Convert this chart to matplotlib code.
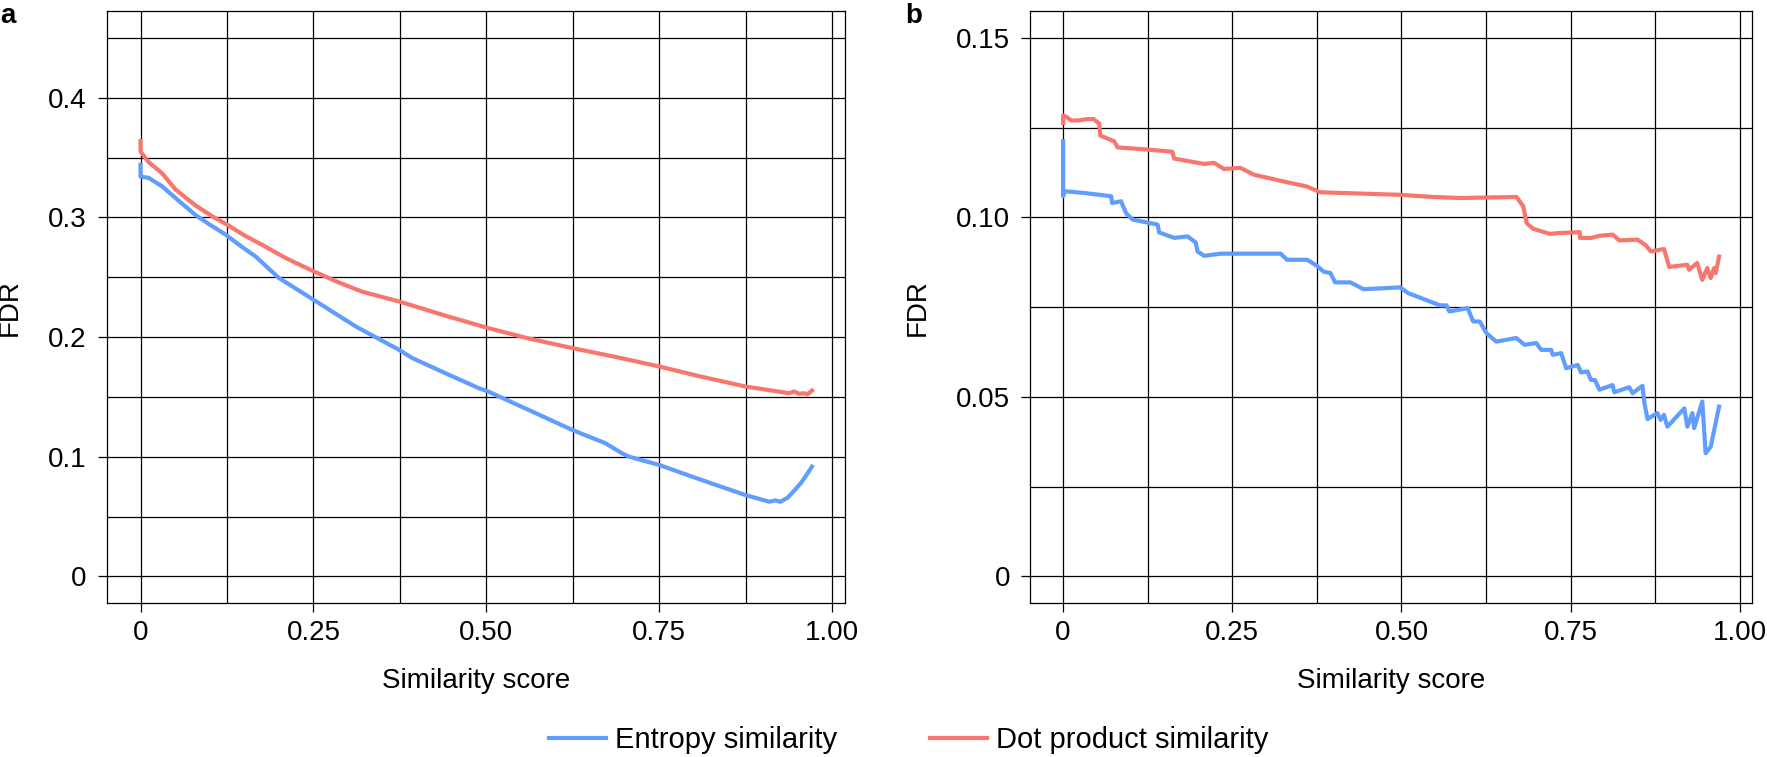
import matplotlib
matplotlib.use("Agg")
import matplotlib.pyplot as plt
from matplotlib.ticker import MultipleLocator, FixedLocator

plt.rcParams['font.family'] = ['Liberation Sans', 'DejaVu Sans']

# panel a: FDR vs similarity score
a_entropy_x = [0.0, 0.0, 0.002, 0.012, 0.031, 0.055, 0.0795, 0.100, 0.123, 0.145, 0.166, 0.200,
               0.250, 0.311, 0.3735, 0.393, 0.440, 0.489, 0.5026, 0.5615, 0.624, 0.672, 0.696,
               0.706, 0.750, 0.7976, 0.825, 0.8744, 0.909, 0.918, 0.925, 0.935, 0.9416, 0.9545,
               0.962, 0.9707]
a_entropy_y = [0.344, 0.334, 0.334, 0.333, 0.326, 0.314, 0.302, 0.294, 0.2856, 0.276, 0.2675, 0.2494,
               0.2312, 0.2089, 0.1894, 0.1824, 0.170, 0.1573, 0.1545, 0.139, 0.1224, 0.1113, 0.1029,
               0.1001, 0.0931, 0.0833, 0.0778, 0.068, 0.0624, 0.0635, 0.0624, 0.0655, 0.0695, 0.0778,
               0.084, 0.0917]
a_dot_x = [0.0, 0.0, 0.012, 0.031, 0.0506, 0.0795, 0.1035, 0.125, 0.150, 0.176, 0.210, 0.250,
           0.285, 0.320, 0.3735, 0.440, 0.5026, 0.560, 0.624, 0.690, 0.750, 0.8100, 0.8744,
           0.9374, 0.945, 0.952, 0.959, 0.964, 0.9707]
a_dot_y = [0.3637, 0.355, 0.346, 0.337, 0.3233, 0.310, 0.301, 0.294, 0.285, 0.277, 0.266, 0.255,
           0.246, 0.238, 0.2298, 0.218, 0.2075, 0.199, 0.1908, 0.183, 0.1754, 0.167, 0.1587,
           0.1531, 0.1545, 0.1525, 0.1531, 0.152, 0.1553]

# panel b
b_entropy_x = [0.0, 0.0, 0.002, 0.0315, 0.071, 0.0724, 0.0856, 0.093, 0.1028, 0.1396, 0.142,
               0.1642, 0.184, 0.196, 0.1987, 0.2085, 0.233, 0.3214, 0.331, 0.3606, 0.3753,
               0.385, 0.395, 0.402, 0.4246, 0.444, 0.498, 0.510, 0.557, 0.5667, 0.5707, 0.598,
               0.606, 0.6157, 0.6255, 0.640, 0.6697, 0.682, 0.6992, 0.7066, 0.7213, 0.7237,
               0.736, 0.7434, 0.7605, 0.7655, 0.775, 0.780, 0.786, 0.7925, 0.812, 0.8146,
               0.8366, 0.8415, 0.8562, 0.8587, 0.8636, 0.878, 0.883, 0.888, 0.893, 0.918,
               0.9225, 0.930, 0.9325, 0.9446, 0.9495, 0.957, 0.9694]
b_entropy_y = [0.1212, 0.1059, 0.1073, 0.1068, 0.1059, 0.104, 0.1045, 0.1012, 0.0994, 0.098, 0.0958,
               0.0943, 0.0947, 0.093, 0.0905, 0.0893, 0.0899, 0.0899, 0.0882, 0.0882, 0.0865,
               0.0849, 0.0845, 0.0819, 0.0819, 0.080, 0.0805, 0.0789, 0.0755, 0.0755, 0.0738, 0.0747,
               0.071, 0.071, 0.0678, 0.0654, 0.0664, 0.0645, 0.065, 0.0631, 0.0631, 0.0617,
               0.0622, 0.058, 0.0589, 0.0568, 0.0571, 0.0547, 0.0547, 0.052, 0.0533, 0.0513,
               0.0527, 0.051, 0.0531, 0.0487, 0.0438, 0.0455, 0.0436, 0.045, 0.0417, 0.0468,
               0.0417, 0.0455, 0.0413, 0.0487, 0.0343, 0.0361, 0.0473]
b_dot_x = [0.0, 0.0, 0.0049, 0.0117, 0.0216, 0.0363, 0.0450, 0.0534, 0.0549, 0.0755, 0.0805,
           0.1247, 0.1615, 0.164, 0.2082, 0.223, 0.2377, 0.2622, 0.2819, 0.3261, 0.3604,
           0.380, 0.497, 0.5465, 0.586, 0.670, 0.680, 0.685, 0.695, 0.7195, 0.729, 0.7636,
           0.7636, 0.781, 0.793, 0.8124, 0.822, 0.849, 0.8613, 0.8687, 0.888, 0.8957, 0.9226,
           0.925, 0.937, 0.9446, 0.952, 0.957, 0.962, 0.9645, 0.9694]
b_dot_y = [0.1263, 0.1284, 0.128, 0.127, 0.127, 0.1274, 0.1274, 0.1261, 0.1228, 0.1212, 0.1195,
           0.1189, 0.1183, 0.1164, 0.1149, 0.1152, 0.1135, 0.1138, 0.1119, 0.1100, 0.1086,
           0.107, 0.1063, 0.1057, 0.1054, 0.1057, 0.1031, 0.0984, 0.0968, 0.0954, 0.0956, 0.0959,
           0.0943, 0.0943, 0.0949, 0.0952, 0.0936, 0.0938, 0.0922, 0.0905, 0.0912, 0.0862, 0.0868,
           0.0854, 0.0873, 0.0826, 0.0859, 0.0831, 0.0859, 0.0845, 0.0891]

x_ticks = [0, 0.25, 0.5, 0.75, 1.0]
x_labels = ["0", "0.25", "0.50", "0.75", "1.00"]
a_yticks = [0, 0.1, 0.2, 0.3, 0.4]
a_ylabels = ["0", "0.1", "0.2", "0.3", "0.4"]
b_yticks = [0, 0.05, 0.10, 0.15]
b_ylabels = ["0", "0.05", "0.10", "0.15"]

BLUE = "#619CFF"
RED = "#F8766D"
W, H = 1767, 757

fig = plt.figure(figsize=(W / 100, H / 100), dpi=100)
fig.patch.set_facecolor("white")


def setup(ax, yticks, ylabels, ymax, ystep, ylab_x):
    ax.set_xlim(-0.0485, 1.0185)
    ax.set_ylim(-0.05 * ymax, 1.05 * ymax)
    ax.set_xticks(x_ticks)
    ax.set_xticklabels(x_labels)
    ax.set_yticks(yticks)
    ax.set_yticklabels(ylabels)
    ax.xaxis.set_minor_locator(MultipleLocator(0.125))
    ax.yaxis.set_minor_locator(FixedLocator([i * ystep for i in range(int(round(ymax / ystep)) + 1)]))
    ax.grid(True, which="both", color="black", lw=0.9)
    ax.set_axisbelow(True)
    ax.tick_params(which="major", direction="out", length=6.5, width=0.9, labelsize=20, color="black")
    ax.tick_params(axis="x", which="major", pad=5.5)
    ax.tick_params(axis="y", which="major", pad=8)
    ax.tick_params(which="minor", length=0)
    for s in ax.spines.values():
        s.set_color("black")
        s.set_linewidth(0.9)
    ax.set_xlabel("Similarity score", fontsize=20, labelpad=16)
    ax.set_ylabel("FDR", fontsize=20)
    ax.yaxis.set_label_coords(ylab_x, 0.5)


ax_a = fig.add_axes([107 / W, 1 - 603.3 / H, (845 - 107) / W, (603.3 - 11) / H])
ax_b = fig.add_axes([1030.3 / W, 1 - 603.3 / H, (1752.3 - 1030.3) / W, (603.3 - 11) / H])

setup(ax_a, a_yticks, a_ylabels, 0.45, 0.05, -0.114)
setup(ax_b, b_yticks, b_ylabels, 0.15, 0.025, -0.1375)

ax_a.plot(a_entropy_x, a_entropy_y, color=BLUE, lw=3.0, label="Entropy similarity")
ax_a.plot(a_dot_x, a_dot_y, color=RED, lw=3.0, label="Dot product similarity")
ax_b.plot(b_entropy_x, b_entropy_y, color=BLUE, lw=3.0)
ax_b.plot(b_dot_x, b_dot_y, color=RED, lw=3.0)

fig.text(0.0, 1 - 23 / H, "a", fontsize=20, fontweight="bold", va="baseline", ha="left")
fig.text(905 / W, 1 - 23 / H, "b", fontsize=20, fontweight="bold", va="baseline", ha="left")

handles, labels = ax_a.get_legend_handles_labels()
fig.legend(handles, labels, loc="center", bbox_to_anchor=(0.5144, 0.022), ncol=2,
           frameon=False, fontsize=21, handlelength=1.95, handletextpad=0.3,
           columnspacing=3.2)

fig.savefig("out.png", dpi=100)
